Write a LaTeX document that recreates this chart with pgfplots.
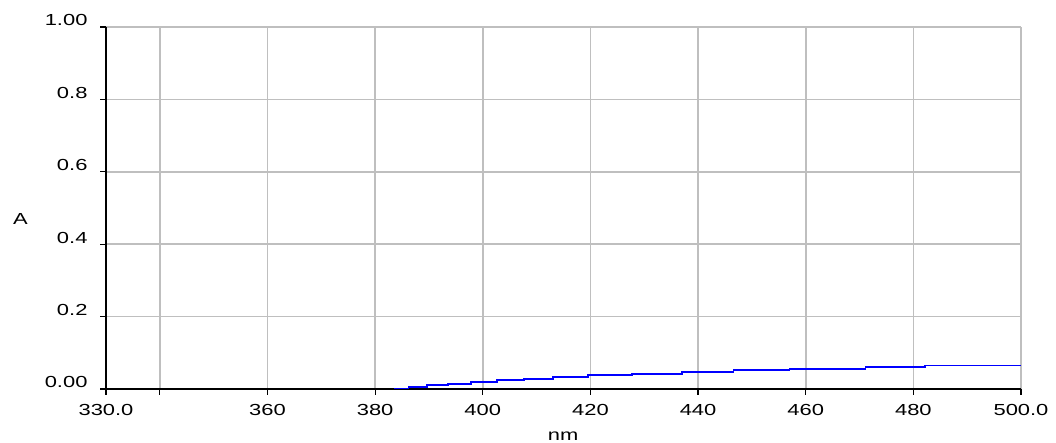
\documentclass[border=0pt]{standalone}
\usepackage{fontspec}
\setmainfont{Liberation Sans}[FakeStretch=1.37]
\usepackage{pgfplots}
\pgfplotsset{compat=1.18}
\begin{document}
\fontsize{16pt}{19pt}\selectfont
\begin{tikzpicture}
\useasboundingbox (0,0) rectangle (1056pt,443pt);
\begin{axis}[
  at={(106pt,54pt)}, anchor=south west,
  scale only axis, width=915pt, height=362pt,
  xmin=330, xmax=500, ymin=0, ymax=1,
  axis lines*=left,
  axis line style={black, line width=1.5pt},
  xtick={330,340,360,380,400,420,440,460,480,500},
  xticklabels={330.0,,360,380,400,420,440,460,480,500.0},
  ytick={0,0.2,0.4,0.6,0.8,1},
  yticklabels={0.00,0.2,0.4,0.6,0.8,1.00},
  tick align=outside,
  major tick length=6pt,
  tick style={black, line width=1.2pt},
  grid=major,
  major grid style={color=black!25, line width=1.6pt},
  xticklabel style={font=\fontsize{16pt}{19pt}\selectfont, anchor=north, yshift=-4pt},
  yticklabel style={font=\fontsize{16pt}{19pt}\selectfont, anchor=base east, xshift=-7pt, yshift=1pt},
  xlabel={nm},
  xlabel style={font=\fontsize{16pt}{19pt}\selectfont, at={(axis description cs:0.4995,-0.13)}, anchor=center},
  ylabel={A},
  ylabel style={font=\fontsize{16pt}{19pt}\selectfont, rotate=-90, at={(axis description cs:-0.0934,0.47)}, anchor=center},
]
\addplot[const plot, color={rgb,255:red,0;green,0;blue,255}, line width=1.7pt] coordinates {
(383.6,0.001)
(386.2,0.0047)
(389.6,0.0102)
(393.6,0.0146)
(397.8,0.020)
(402.6,0.024)
(407.6,0.028)
(413.1,0.033)
(419.6,0.038)
(427.7,0.041)
(437.0,0.047)
(446.6,0.052)
(457.0,0.056)
(471.1,0.061)
(482.2,0.065)
(500,0.065)
};
\end{axis}
\end{tikzpicture}
\end{document}
